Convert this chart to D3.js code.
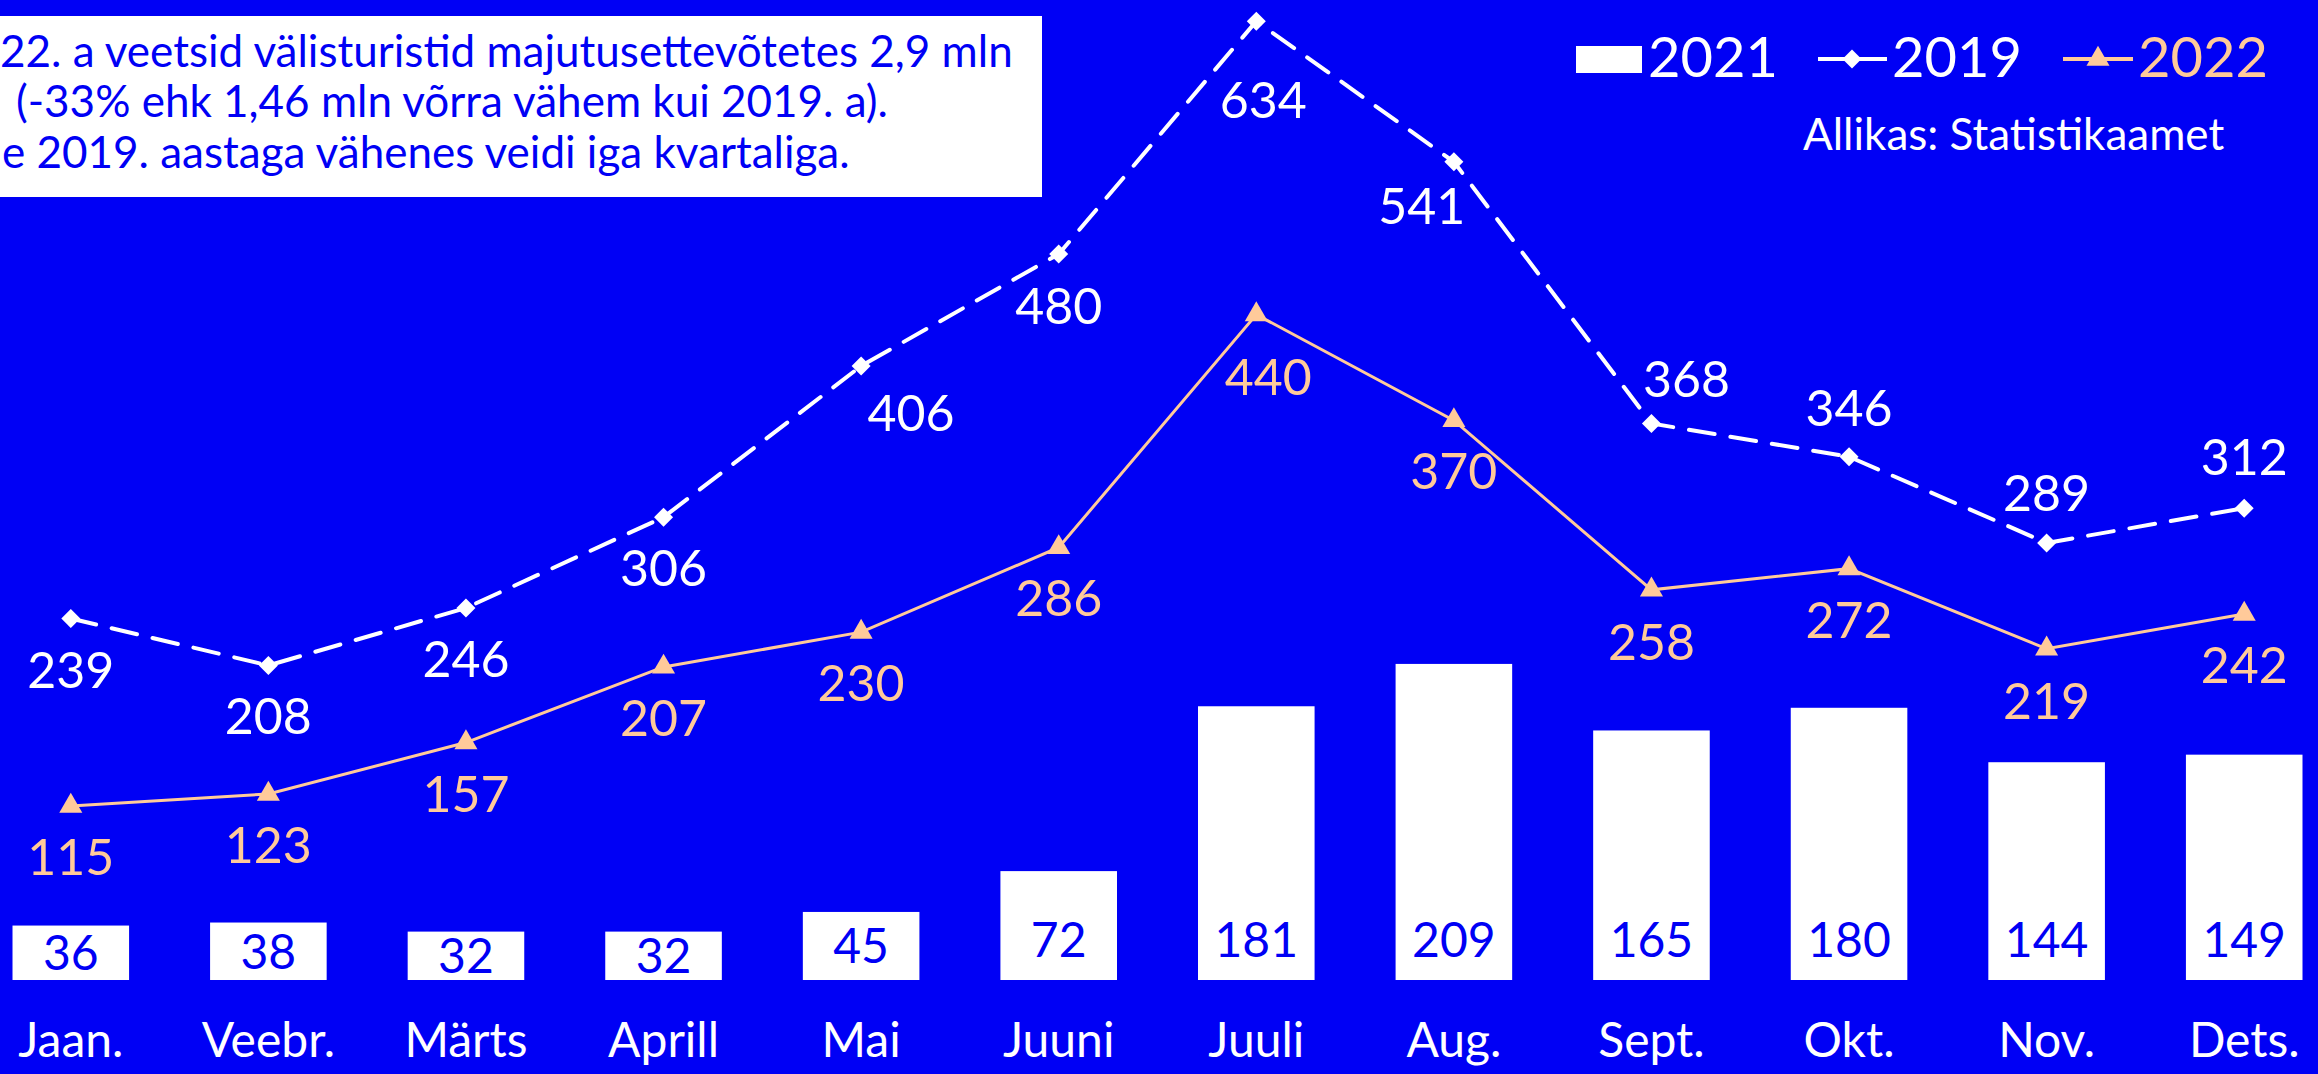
<!DOCTYPE html>
<html><head><meta charset="utf-8">
<script src="https://cdn.jsdelivr.net/npm/d3@7"></script>
<style>html,body{margin:0;padding:0;background:#0000F5;overflow:hidden}svg{display:block}</style>
</head><body>
<script>
const months = ["Jaan.","Veebr.","Märts","Aprill","Mai","Juuni","Juuli","Aug.","Sept.","Okt.","Nov.","Dets."];
const values2021 = [36,38,32,32,45,72,181,209,165,180,144,149];
const values2019 = [239,208,246,306,406,480,634,541,368,346,289,312];
const values2022 = [115,123,157,207,230,286,440,370,258,272,219,242];
const seriesNames = ["2021","2019","2022"];
const noteLines = [
  "22. a veetsid välisturistid majutusettevõtetes 2,9 mln",
  "(-33% ehk 1,46 mln võrra vähem kui 2019. a).",
  "e 2019. aastaga vähenes veidi iga kvartaliga."
];
const sourceText = "Allikas: Statistikaamet";

// layout (label offsets, not data)
const dx2019 = [0,0,0,0,50,0,7,-32,35,0,0,0];
const dy2019 = [51,51,51,51,47,52,79,44,-44,-49,-50,-51];
const dx2022 = [0,0,0,0,0,0,12,0,0,0,0,0];
const dy2022 = [51,51,51,51,51,51,62,51,52,51,52,51];

const W = 2318, H = 1074;
const BLUE = "#0000F5", PEACH = "#FFCA9A", WHITE = "#FFFFFF";
const FONT = "Lato, 'Open Sans', sans-serif";

const svg = d3.select("body").append("svg").attr("width", W).attr("height", H);
svg.append("rect").attr("width", W).attr("height", H).attr("fill", BLUE);

const x = d3.scaleBand().domain(months).range([-28, 2343]).paddingInner(0.41).paddingOuter(0.205);
const y = d3.scaleLinear().domain([0, 648]).range([980, 0]);
const cx = m => x(m) + x.bandwidth() / 2;

// bars 2021
svg.append("g").selectAll("rect").data(values2021).join("rect")
  .attr("x", (d,i) => x(months[i])).attr("width", x.bandwidth())
  .attr("y", d => y(d)).attr("height", d => y(0) - y(d)).attr("fill", WHITE);
svg.append("g").selectAll("text").data(values2021).join("text")
  .attr("x", (d,i) => cx(months[i]))
  .attr("y", d => Math.max(940, (y(d) + y(0)) / 2))
  .attr("dy", "0.36em")
  .attr("text-anchor", "middle").attr("font-family", FONT).attr("font-size", 48)
  .attr("fill", BLUE).text(d => d);

// x axis labels
const xAxis = d3.axisBottom(x).tickSize(0).tickPadding(0);
const gx = svg.append("g").attr("transform", "translate(0,1040)").call(xAxis);
gx.select(".domain").remove();
gx.selectAll("text").attr("font-family", FONT).attr("font-size", 48).attr("fill", WHITE)
  .attr("dy", "0.35em").attr("y", 0);

// lines
const line = d3.line().x((d,i) => cx(months[i])).y(d => y(d));
svg.append("path").datum(values2022).attr("d", line).attr("fill", "none")
  .attr("stroke", PEACH).attr("stroke-width", 3);
svg.append("path").datum(values2019).attr("d", line).attr("fill", "none")
  .attr("stroke", WHITE).attr("stroke-width", 4).attr("stroke-dasharray", "26 16")
  .attr("stroke-linecap", "round");

const diamond = d3.symbol().type(d3.symbolDiamond2).size(230);
const triangle = d3.symbol().type(d3.symbolTriangle).size(230);
svg.append("g").selectAll("path").data(values2019).join("path")
  .attr("d", diamond).attr("fill", WHITE)
  .attr("transform", (d,i) => `translate(${cx(months[i])},${y(d)})`);
svg.append("g").selectAll("path").data(values2022).join("path")
  .attr("d", triangle).attr("fill", PEACH)
  .attr("transform", (d,i) => `translate(${cx(months[i])},${y(d)})`);

// point labels
svg.append("g").selectAll("text").data(values2019).join("text")
  .attr("x", (d,i) => cx(months[i]) + dx2019[i]).attr("y", (d,i) => y(d) + dy2019[i])
  .attr("dy", "0.36em").attr("text-anchor", "middle").attr("font-family", FONT)
  .attr("font-size", 50).attr("fill", WHITE).text(d => d);
svg.append("g").selectAll("text").data(values2022).join("text")
  .attr("x", (d,i) => cx(months[i]) + dx2022[i]).attr("y", (d,i) => y(d) + dy2022[i])
  .attr("dy", "0.36em").attr("text-anchor", "middle").attr("font-family", FONT)
  .attr("font-size", 50).attr("fill", PEACH).text(d => d);

// note box
svg.append("rect").attr("x", -10).attr("y", 16).attr("width", 1052).attr("height", 181).attr("fill", WHITE);
const noteX = [0, 16, 2];
const noteY = [67, 117, 168];
svg.append("g").selectAll("text").data(noteLines).join("text")
  .attr("x", (d,i) => noteX[i]).attr("y", (d,i) => noteY[i])
  .attr("font-family", FONT).attr("font-size", 44).attr("fill", BLUE).text(d => d);

// legend
const lg = svg.append("g").attr("font-family", FONT).attr("font-size", 56);
lg.append("rect").attr("x", 1576).attr("y", 46).attr("width", 66).attr("height", 27).attr("fill", WHITE);
lg.append("text").attr("x", 1648).attr("y", 77).attr("fill", WHITE).text(seriesNames[0]);
lg.append("line").attr("x1", 1818).attr("x2", 1887).attr("y1", 59).attr("y2", 59).attr("stroke", WHITE).attr("stroke-width", 4);
lg.append("path").attr("d", diamond).attr("fill", WHITE).attr("transform", "translate(1852,59)");
lg.append("text").attr("x", 1892).attr("y", 77).attr("fill", WHITE).text(seriesNames[1]);
lg.append("line").attr("x1", 2063).attr("x2", 2133).attr("y1", 59).attr("y2", 59).attr("stroke", PEACH).attr("stroke-width", 4);
lg.append("path").attr("d", triangle).attr("fill", PEACH).attr("transform", "translate(2098,59)");
lg.append("text").attr("x", 2138).attr("y", 77).attr("fill", PEACH).text(seriesNames[2]);

svg.append("text").attr("x", 1803).attr("y", 150).attr("font-family", FONT).attr("font-size", 44)
  .attr("fill", WHITE).text(sourceText);
</script>
</body></html>
